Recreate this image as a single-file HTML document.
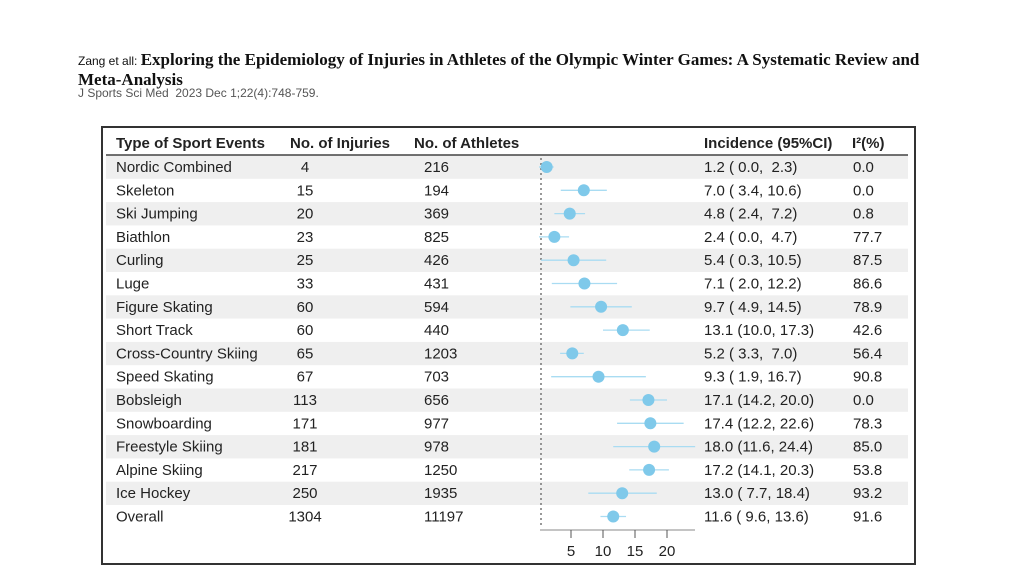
<!DOCTYPE html>
<html><head><meta charset="utf-8"><style>
body{margin:0;width:1024px;height:576px;background:#fff;position:relative;overflow:hidden}
.t{position:absolute;left:78px;top:50px;width:900px;line-height:16px;color:#111;white-space:nowrap}
.t .a{font:12px "Liberation Sans",sans-serif}
.t .b{font:bold 17px "Liberation Serif",serif}
.j{position:absolute;left:78px;top:86px;font:12px "Liberation Sans",sans-serif;color:#555}
svg{position:absolute;left:0;top:0}
</style></head><body>
<div class="t"><span class="a">Zang et all: </span><span class="b">Exploring the Epidemiology of Injuries in Athletes of the Olympic Winter Games: A Systematic Review and<br>Meta-Analysis</span></div>
<div class="j">J Sports Sci Med&nbsp; 2023 Dec 1;22(4):748-759.</div>
<svg width="1024" height="576" font-family="Liberation Sans, sans-serif" font-size="15" fill="#222">
<rect x="102" y="127" width="813" height="437" fill="#fff" stroke="#333" stroke-width="2"/>
<g id="rows"></g>
<line x1="106" y1="155" x2="908" y2="155" stroke="#444" stroke-width="1.5"/>
<g font-weight="bold" font-size="15">
<text x="116" y="148">Type of Sport Events</text>
<text x="290" y="148">No. of Injuries</text>
<text x="414" y="148">No. of Athletes</text>
<text x="704" y="148">Incidence (95%CI)</text>
<text x="852" y="148">I²(%)</text>
</g>
<line x1="541" y1="158" x2="541" y2="528" stroke="#777" stroke-width="1.5" stroke-dasharray="2,3"/>
<line x1="540" y1="530" x2="695" y2="530" stroke="#888" stroke-width="1"/>
<g stroke="#555"><line x1="571" y1="530" x2="571" y2="538"/><line x1="603" y1="530" x2="603" y2="538"/><line x1="635" y1="530" x2="635" y2="538"/><line x1="667" y1="530" x2="667" y2="538"/></g>
<g text-anchor="middle"><text x="571" y="556">5</text><text x="603" y="556">10</text><text x="635" y="556">15</text><text x="667" y="556">20</text></g>
<g id="data"></g>
</svg>
<script>
var d=[["Nordic Combined",4,216,1.2,0,2.3,"1.2 ( 0.0,  2.3)","0.0"],
["Skeleton",15,194,7.0,3.4,10.6,"7.0 ( 3.4, 10.6)","0.0"],
["Ski Jumping",20,369,4.8,2.4,7.2,"4.8 ( 2.4,  7.2)","0.8"],
["Biathlon",23,825,2.4,0,4.7,"2.4 ( 0.0,  4.7)","77.7"],
["Curling",25,426,5.4,0.3,10.5,"5.4 ( 0.3, 10.5)","87.5"],
["Luge",33,431,7.1,2.0,12.2,"7.1 ( 2.0, 12.2)","86.6"],
["Figure Skating",60,594,9.7,4.9,14.5,"9.7 ( 4.9, 14.5)","78.9"],
["Short Track",60,440,13.1,10,17.3,"13.1 (10.0, 17.3)","42.6"],
["Cross-Country Skiing",65,1203,5.2,3.3,7.0,"5.2 ( 3.3,  7.0)","56.4"],
["Speed Skating",67,703,9.3,1.9,16.7,"9.3 ( 1.9, 16.7)","90.8"],
["Bobsleigh",113,656,17.1,14.2,20.0,"17.1 (14.2, 20.0)","0.0"],
["Snowboarding",171,977,17.4,12.2,22.6,"17.4 (12.2, 22.6)","78.3"],
["Freestyle Skiing",181,978,18.0,11.6,24.4,"18.0 (11.6, 24.4)","85.0"],
["Alpine Skiing",217,1250,17.2,14.1,20.3,"17.2 (14.1, 20.3)","53.8"],
["Ice Hockey",250,1935,13.0,7.7,18.4,"13.0 ( 7.7, 18.4)","93.2"],
["Overall",1304,11197,11.6,9.6,13.6,"11.6 ( 9.6, 13.6)","91.6"]];
var R="",D="",X=function(v){return 539+v*6.4};
d.forEach(function(r,i){var y=167+i*23.3;
if(i%2==0&&i<15)R+='<rect x="106" y="'+(y-11.5)+'" width="802" height="23.3" fill="#efefef"/>';
D+='<text x="116" y="'+(y+5)+'">'+r[0]+'</text><text x="305" y="'+(y+5)+'" text-anchor="middle">'+r[1]+'</text><text x="424" y="'+(y+5)+'">'+r[2]+'</text><text x="704" y="'+(y+5)+'" xml:space="preserve">'+r[6]+'</text><text x="853" y="'+(y+5)+'">'+r[7]+'</text>';
D+='<line x1="'+X(r[4])+'" y1="'+y+'" x2="'+X(r[5])+'" y2="'+y+'" stroke="#a9dcf2" stroke-width="1.3"/><circle cx="'+X(r[3])+'" cy="'+y+'" r="6" fill="#7fc9ea"/>';});
document.getElementById("rows").innerHTML=R;document.getElementById("data").innerHTML=D;
</script>
</body></html>
